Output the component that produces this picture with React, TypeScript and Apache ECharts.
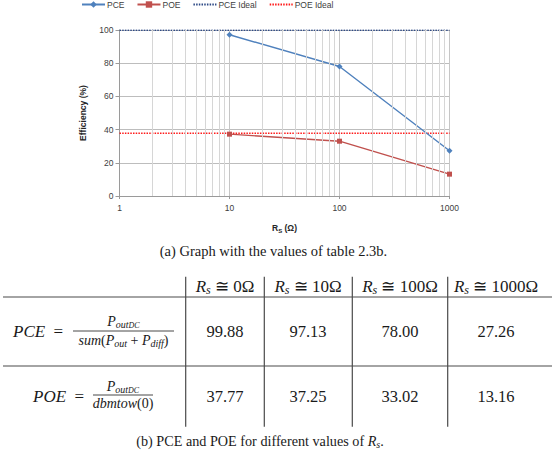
import React, { useEffect, useRef } from "react";
import * as echarts from "echarts";

// ---- data ----
const rsValues = [10, 100, 1000];
const pceValues = [97.13, 78.0, 27.26];
const poeValues = [37.25, 33.02, 13.16];
const pceIdeal = 99.88;
const poeIdeal = 37.77;
const xRange = [1, 1000];
const minorGridValues = [2, 3, 4, 5, 6, 7, 8, 9, 20, 30, 40, 50, 60, 70, 80, 90, 200, 300, 400, 500, 600, 700, 800, 900];
const legendNames = ["PCE", "POE", "PCE Ideal", "POE Ideal"];
const tableHeaders = ["0", "10", "100", "1000"];
const pceTable = ["99.88", "97.13", "78.00", "27.26"];
const poeTable = ["37.77", "37.25", "33.02", "13.16"];
const captionA = "(a) Graph with the values of table 2.3b.";
const captionB = "(b) PCE and POE for different values of ";

const SANS = '"Liberation Sans", Arial, sans-serif';
const SERIF = '"Liberation Serif", "DejaVu Serif", serif';
const INK = "#1a1a1a";

export default function App() {
  const ref = useRef<HTMLDivElement>(null);
  useEffect(() => {
    document.body.style.margin = "0";
    const chart = echarts.init(ref.current!, null, { renderer: "svg" });

    const colX = [225, 308, 400, 496];
    const vLines = [185.7, 264.3, 352.3, 447.7];
    const rowPCE = 331;
    const rowPOE = 396;

    const richMath: any = {
      fi: { fontStyle: "italic", fontSize: 14, fontFamily: SERIF, fill: INK, lineHeight: 16 },
      fn: { fontSize: 14, fontFamily: SERIF, fill: INK, lineHeight: 16 },
      sb: { fontStyle: "italic", fontSize: 10, fontFamily: SERIF, fill: INK, lineHeight: 9, verticalAlign: "bottom" },
      ss: { fontStyle: "italic", fontSize: 8, fontFamily: SERIF, fill: INK, lineHeight: 5, verticalAlign: "bottom" },
    };
    const richBig: any = {
      i: { fontStyle: "italic", fontSize: 17, fontFamily: SERIF, fill: INK, lineHeight: 20 },
      n: { fontSize: 17, fontFamily: SERIF, fill: INK, lineHeight: 20 },
      s: { fontStyle: "italic", fontSize: 12, fontFamily: SERIF, fill: INK, lineHeight: 10, verticalAlign: "bottom" },
    };
    const richNum: any = {
      v: { fontSize: 16.5, fontFamily: SERIF, fill: INK, lineHeight: 20 },
    };

    const elements: any[] = [];
    // captions
    elements.push({
      type: "text", x: 273.5, y: 250.7,
      style: {
        text: "{n|" + captionA + "}", align: "center", verticalAlign: "middle",
        rich: { n: { fontSize: 14.5, fontFamily: SERIF, fill: INK, lineHeight: 16 } },
      },
    });
    elements.push({
      type: "text", x: 260, y: 441,
      style: {
        text: "{n|" + captionB + "}{i|R}{s|s}{n|.}",
        align: "center", verticalAlign: "middle",
        rich: {
          n: { fontSize: 14.2, fontFamily: SERIF, fill: INK, lineHeight: 16 },
          i: { fontSize: 14.2, fontStyle: "italic", fontFamily: SERIF, fill: INK, lineHeight: 16 },
          s: { fontSize: 10, fontStyle: "italic", fontFamily: SERIF, fill: INK, lineHeight: 8, verticalAlign: "bottom" },
        },
      },
    });
    // table rules
    [297, 366].forEach((y) =>
      elements.push({ type: "line", shape: { x1: 3, y1: y, x2: 552, y2: y }, style: { stroke: "#4a4a4a", lineWidth: 1.2 } })
    );
    vLines.forEach((x) =>
      elements.push({ type: "line", shape: { x1: x, y1: 276.7, x2: x, y2: 426.7 }, style: { stroke: "#4a4a4a", lineWidth: 1.2 } })
    );
    // headers
    tableHeaders.forEach((h, k) =>
      elements.push({
        type: "text", x: colX[k], y: 286,
        style: { text: "{i|R}{s|s}{n| \u2245 " + h + "\u03A9}", align: "center", verticalAlign: "middle", rich: richBig },
      })
    );
    // values
    pceTable.forEach((v, k) =>
      elements.push({
        type: "text", x: colX[k], y: rowPCE,
        style: { text: "{v|" + v + "}", align: "center", verticalAlign: "middle", rich: richNum },
      })
    );
    poeTable.forEach((v, k) =>
      elements.push({
        type: "text", x: colX[k], y: rowPOE,
        style: { text: "{v|" + v + "}", align: "center", verticalAlign: "middle", rich: richNum },
      })
    );
    // formulas
    elements.push({
      type: "text", x: 13, y: rowPCE,
      style: { text: "{i|PCE}{n|  =}", align: "left", verticalAlign: "middle", rich: richBig },
    });
    elements.push({ type: "line", shape: { x1: 73, y1: 331, x2: 174, y2: 331 }, style: { stroke: INK, lineWidth: 0.8 } });
    elements.push({
      type: "text", x: 123.5, y: 321.7,
      style: { text: "{fi|P}{sb|out}{ss|DC}", align: "center", verticalAlign: "middle", rich: richMath },
    });
    elements.push({
      type: "text", x: 123.5, y: 340.5,
      style: { text: "{fi|sum}{fn|(}{fi|P}{sb|out}{fn| + }{fi|P}{sb|diff}{fn|)}", align: "center", verticalAlign: "middle", rich: richMath },
    });
    elements.push({
      type: "text", x: 33, y: rowPOE,
      style: { text: "{i|POE}{n|  =}", align: "left", verticalAlign: "middle", rich: richBig },
    });
    elements.push({ type: "line", shape: { x1: 93, y1: 395, x2: 153, y2: 395 }, style: { stroke: INK, lineWidth: 0.8 } });
    elements.push({
      type: "text", x: 123, y: 386.7,
      style: { text: "{fi|P}{sb|out}{ss|DC}", align: "center", verticalAlign: "middle", rich: richMath },
    });
    elements.push({
      type: "text", x: 123, y: 403.5,
      style: { text: "{fi|dbmtow}{fn|(0)}", align: "center", verticalAlign: "middle", rich: richMath },
    });

    const option: any = {
      animation: false,
      backgroundColor: "#ffffff",
      legend: {
        data: [
          { name: legendNames[0] },
          { name: legendNames[1] },
          { name: legendNames[2], itemStyle: { opacity: 0 } },
          { name: legendNames[3], itemStyle: { opacity: 0 } },
        ],
        left: 76,
        top: -5,
        itemWidth: 23,
        itemHeight: 8,
        itemGap: 12,
        textStyle: { fontSize: 8.5, fontFamily: SANS, color: "#404040", padding: [0, 0, 0, -3] },
      },
      grid: { left: 119.5, right: 105.5, top: 30, bottom: 255, containLabel: false },
      xAxis: {
        type: "log",
        logBase: 10,
        min: xRange[0],
        max: xRange[1],
        name: "{b|R}{s|S}{b| (\u03A9)}",
        nameLocation: "middle",
        nameGap: 26.5,
        nameTextStyle: {
          rich: {
            b: { fontSize: 8.5, fontWeight: "bold", fontFamily: SANS, color: "#262626", lineHeight: 11 },
            s: { fontSize: 6, fontWeight: "bold", fontFamily: SANS, color: "#262626", lineHeight: 6, verticalAlign: "bottom" },
          },
        },
        axisLine: { show: true, lineStyle: { color: "#9a9a9a", width: 1 } },
        axisTick: { show: true, length: 3, lineStyle: { color: "#9a9a9a" } },
        axisLabel: { fontSize: 8.5, fontFamily: SANS, color: "#404040", margin: 7, formatter: (v: number) => String(Math.round(v)) },
        splitLine: { show: true, lineStyle: { color: "#c6c6c6", width: 1 } },
        minorTick: { show: false },
        minorSplitLine: { show: false },
      },
      yAxis: {
        type: "value",
        min: 0,
        max: 100,
        interval: 20,
        name: "Efficiency (%)",
        nameLocation: "middle",
        nameGap: 32.5,
        nameRotate: 90,
        nameTextStyle: { fontSize: 8.5, fontWeight: "bold", fontFamily: SANS, color: "#262626" },
        axisLine: { show: true, lineStyle: { color: "#9a9a9a", width: 1 } },
        axisTick: { show: true, length: 4, lineStyle: { color: "#9a9a9a" } },
        axisLabel: { fontSize: 8.5, fontFamily: SANS, color: "#404040", margin: 6 },
        splitLine: { show: true, lineStyle: { color: "#bdbdbd", width: 1.2 } },
      },
      series: [
        {
          name: "minorgrid",
          type: "line",
          data: [],
          z: 1,
          silent: true,
          markLine: {
            silent: true,
            symbol: "none",
            label: { show: false },
            animation: false,
            lineStyle: { color: "#d6d6d6", width: 1, type: "solid" },
            data: minorGridValues.map((v) => ({ xAxis: v })),
          },
        },
        {
          name: "PCE Ideal",
          type: "line",
          data: [[xRange[0], pceIdeal], [xRange[1], pceIdeal]],
          symbol: "none",
          z: 3,
          lineStyle: { color: "#2e4a86", width: 1.4, type: [1.5, 1.2] },
          itemStyle: { color: "#2e4a86" },
        },
        {
          name: "POE Ideal",
          type: "line",
          data: [[xRange[0], poeIdeal], [xRange[1], poeIdeal]],
          symbol: "none",
          z: 3,
          lineStyle: { color: "#ff1a1a", width: 1.4, type: [1.5, 1.2] },
          itemStyle: { color: "#ff1a1a" },
        },
        {
          name: "PCE",
          type: "line",
          data: rsValues.map((x, k) => [x, pceValues[k]]),
          symbol: "diamond",
          symbolSize: 6,
          z: 4,
          lineStyle: { color: "#4f81bd", width: 1.4 },
          itemStyle: { color: "#4f81bd" },
        },
        {
          name: "POE",
          type: "line",
          data: rsValues.map((x, k) => [x, poeValues[k]]),
          symbol: "rect",
          symbolSize: 5,
          z: 4,
          lineStyle: { color: "#c0504d", width: 1.4 },
          itemStyle: { color: "#c0504d" },
        },
      ],
      graphic: { elements },
    };
    chart.setOption(option);
    return () => chart.dispose();
  }, []);
  return <div ref={ref} style={{ width: 555, height: 451 }} />;
}
